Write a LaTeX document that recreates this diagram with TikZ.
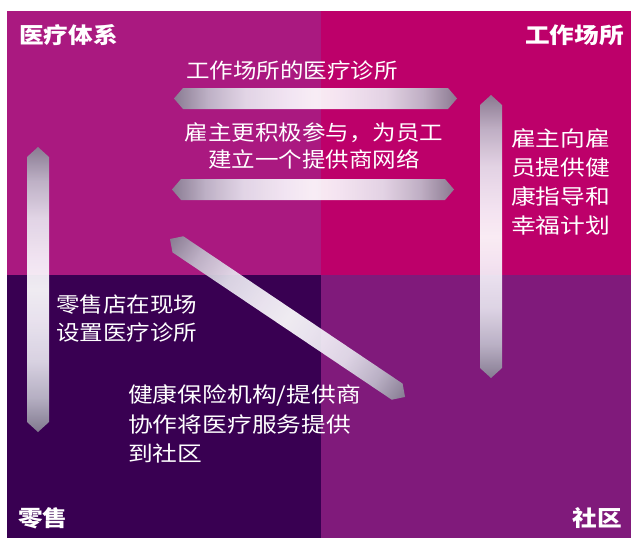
\documentclass[tikz,border=0pt]{standalone}
\usepackage{fontspec}
\usetikzlibrary{calc}
\newfontfamily\cjk[FakeStretch=1.12]{Noto Sans CJK SC}
\newfontfamily\cjkw[FakeStretch=1.18]{Noto Sans CJK SC}
\definecolor{qtl}{RGB}{170,25,128}
\definecolor{qtr}{RGB}{189,0,106}
\definecolor{qbl}{RGB}{57,0,82}
\definecolor{qbr}{RGB}{128,26,123}
\definecolor{aend}{RGB}{135,132,148}
\definecolor{aone}{RGB}{192,190,204}
\definecolor{atwo}{RGB}{230,228,238}
\definecolor{athree}{RGB}{248,246,252}
\definecolor{amid}{RGB}{255,255,255}
\pgfdeclarehorizontalshading{hsh}{100bp}{color(0bp)=(aend); color(25bp)=(aend); color(31bp)=(aone); color(37.5bp)=(atwo); color(45bp)=(athree); color(50bp)=(amid); color(55bp)=(athree); color(62.5bp)=(atwo); color(69bp)=(aone); color(75bp)=(aend); color(100bp)=(aend)}
\pgfdeclareverticalshading{vsh}{100bp}{color(0bp)=(aend); color(25bp)=(aend); color(31bp)=(aone); color(37.5bp)=(atwo); color(45bp)=(athree); color(50bp)=(amid); color(55bp)=(athree); color(62.5bp)=(atwo); color(69bp)=(aone); color(75bp)=(aend); color(100bp)=(aend)}
\tikzset{
  lbl/.style={text=white, inner sep=0pt, font=\cjk\bfseries\fontsize{22}{26}\selectfont},
  txt/.style={text=white, inner sep=0pt, font=\cjk\fontsize{21}{27}\selectfont},
  harrow/.style={shading=hsh, fill opacity=0.92, draw=none},
  varrow/.style={shading=vsh, fill opacity=0.92, draw=none}
}
\begin{document}
\begin{tikzpicture}[x=1pt,y=-1pt]
\useasboundingbox (0,0) rectangle (631,538);
\fill[white] (0,0) rectangle (631,538);
% quadrants
\fill[qtl] (7,11) rectangle (321,275);
\fill[qtr] (321,11) rectangle (631,275);
\fill[qbl] (7,275) rectangle (321,538);
\fill[qbr] (321,275) rectangle (631,538);
% horizontal arrows
\coordinate (h1a) at (174,98.5);
\coordinate (h1b) at (457,98.5);
\shade[harrow] (h1a) -- ($(h1a)+(9,-10.5)$) -- ($(h1b)+(-9,-10.5)$) -- (h1b) -- ($(h1b)+(-9,10.5)$) -- ($(h1a)+(9,10.5)$) -- cycle;
\coordinate (h2a) at (172,189.5);
\coordinate (h2b) at (454,189.5);
\shade[harrow] (h2a) -- ($(h2a)+(9,-10.5)$) -- ($(h2b)+(-9,-10.5)$) -- (h2b) -- ($(h2b)+(-9,10.5)$) -- ($(h2a)+(9,10.5)$) -- cycle;
% vertical arrows
\coordinate (v1a) at (38,147);
\coordinate (v1b) at (38,432);
\shade[varrow] (v1a) -- ($(v1a)+(11,10)$) -- ($(v1b)+(11,-10)$) -- (v1b) -- ($(v1b)+(-11,-10)$) -- ($(v1a)+(-11,10)$) -- cycle;
\coordinate (v2a) at (491,95);
\coordinate (v2b) at (491,378);
\shade[varrow] (v2a) -- ($(v2a)+(11,10)$) -- ($(v2b)+(11,-10)$) -- (v2b) -- ($(v2b)+(-11,-10)$) -- ($(v2a)+(-11,10)$) -- cycle;
% diagonal arrow
\begin{scope}[transform canvas={shift={(170,239)}, rotate=-33.9}]
\coordinate (da) at (0,0);
\coordinate (db) at (283.2,0);
\shade[harrow] (da) -- ($(da)+(9.5,-9.7)$) -- ($(db)+(-9.5,-9.7)$) -- (db) -- ($(db)+(-9.5,9.7)$) -- ($(da)+(9.5,9.7)$) -- cycle;
\end{scope}
% corner labels
\node[lbl, anchor=west] (hs) at (19,35) {医疗体系};
\node[lbl, anchor=east] (wp) at (624,35) {工作场所};
\node[lbl, anchor=west] (rt) at (18,518) {零售};
\node[lbl, anchor=east] (cm) at (622,518) {社区};
% texts
\node[txt] (t1) at (292,70) {工作场所的医疗诊所};
\node[txt, align=center] (t2) at (314,146) {雇主更积极参与，为员工\\建立一个提供商网络};
\node[txt, align=left, anchor=west, font=\cjkw\fontsize{21}{29}\selectfont] (t3) at (511,181.5) {雇主向雇\\员提供健\\康指导和\\幸福计划};
\node[txt, align=left, anchor=west, font=\cjk\fontsize{21}{28}\selectfont] (t4) at (56,319) {零售店在现场\\设置医疗诊所};
\node[txt, align=left, anchor=west, font=\cjkw\fontsize{21}{29.5}\selectfont] (t5) at (128,424) {健康保险机构/提供商\\协作将医疗服务提供\\到社区};
\end{tikzpicture}
\end{document}
